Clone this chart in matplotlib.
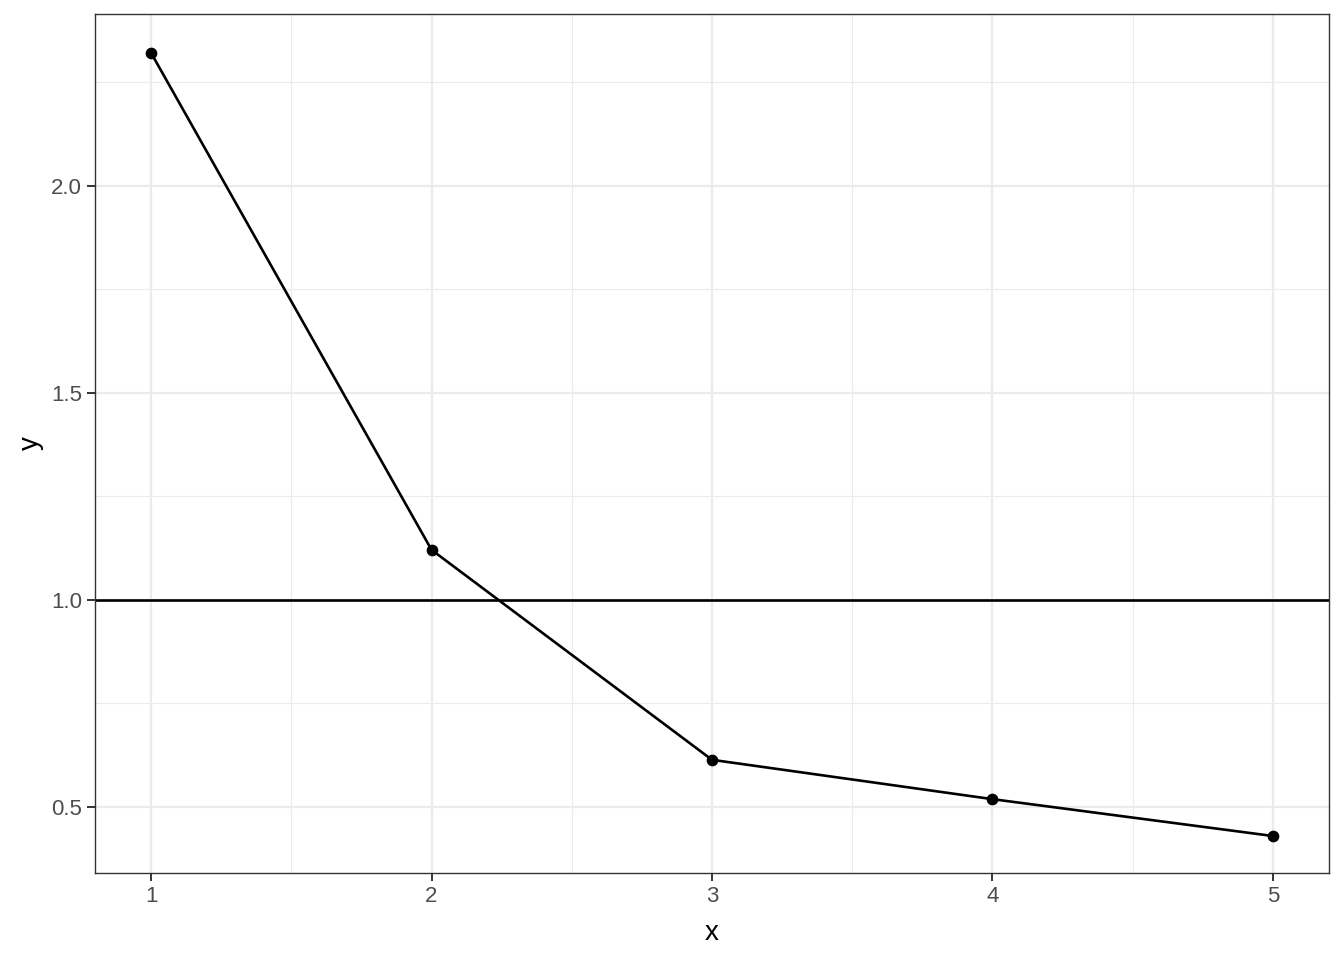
import matplotlib
matplotlib.use("Agg")
from matplotlib import pyplot as plt
from matplotlib.ticker import MultipleLocator

x = [1, 2, 3, 4, 5]
y = [2.321, 1.121, 0.614, 0.519, 0.430]
ref_line = 1.0

plt.rcParams["font.family"] = ["Liberation Sans", "DejaVu Sans"]

fig = plt.figure(figsize=(13.44, 9.6), dpi=100)
ax = fig.add_axes([0.0707, 0.0906, 0.9181, 0.8948])

ax.set_xlim(0.8, 5.2)
ax.set_ylim(0.3406, 2.415)

ax.xaxis.set_major_locator(MultipleLocator(1))
ax.xaxis.set_minor_locator(MultipleLocator(0.5))
ax.yaxis.set_major_locator(MultipleLocator(0.5))
ax.yaxis.set_minor_locator(MultipleLocator(0.25))
ax.set_yticks([0.5, 1.0, 1.5, 2.0])
ax.set_yticklabels(["0.5", "1.0", "1.5", "2.0"])

ax.grid(which="major", color="#EBEBEB", linewidth=1.6, zorder=0)
ax.grid(which="minor", color="#EBEBEB", linewidth=0.8, zorder=0)
ax.set_axisbelow(True)

ax.axhline(ref_line, color="black", linewidth=1.9, zorder=2)
ax.plot(x, y, color="black", linewidth=1.9, zorder=3)
ax.scatter(x, y, color="black", s=55, zorder=4)

for s in ax.spines.values():
    s.set_color("#333333")
    s.set_linewidth(1.0)

ax.tick_params(which="major", length=5.5, width=1.4, color="#333333",
               labelsize=16, labelcolor="#4D4D4D", pad=4)
ax.tick_params(which="minor", length=0)

ax.set_xlabel("x", fontsize=20, labelpad=9)
ax.set_ylabel("y", fontsize=20, labelpad=5)

fig.savefig("out.png", dpi=100)
